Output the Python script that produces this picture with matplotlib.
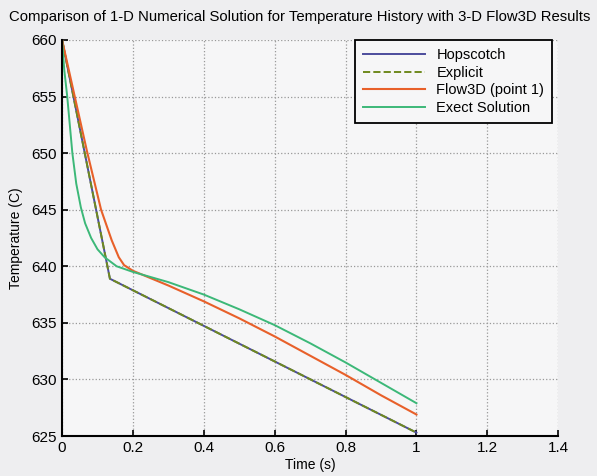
import matplotlib.pyplot as plt

# time/temperature readings estimated from the chart
t_num = [0.0, 0.135, 1.0]
hopscotch = [660.0, 638.9, 625.3]
explicit = [660.0, 638.9, 625.3]

t_flow = [0.0, 0.07, 0.11, 0.14, 0.16, 0.175, 0.2, 0.3, 0.4, 0.5, 0.6, 0.7, 0.8, 0.9, 1.0]
flow3d = [660.0, 650.2, 645.0, 642.3, 640.8, 640.1, 639.6, 638.3, 636.9, 635.4, 633.8, 632.1, 630.4, 628.6, 626.9]

t_exact = [0.0, 0.006, 0.0145, 0.029, 0.04, 0.053, 0.065, 0.082, 0.10, 0.12, 0.154, 0.2,
           0.3, 0.4, 0.5, 0.6, 0.7, 0.8, 0.9, 1.0]
exact = [660.0, 657.4, 655.0, 650.0, 647.3, 645.2, 643.8, 642.5, 641.5, 640.8, 640.0, 639.5,
         638.6, 637.5, 636.2, 634.8, 633.2, 631.5, 629.7, 627.9]

x_ticks = [0, 0.2, 0.4, 0.6, 0.8, 1.0, 1.2, 1.4]
x_labels = ['0', '0.2', '0.4', '0.6', '0.8', '1', '1.2', '1.4']
y_ticks = [625, 630, 635, 640, 645, 650, 655, 660]

plt.rcParams['font.family'] = ['Liberation Sans', 'DejaVu Sans']

fig = plt.figure(figsize=(5.97, 4.76), dpi=100, facecolor='#eeeef0')
ax = fig.add_axes([0.104, 0.084, 0.831, 0.832], facecolor='#f6f6f7')

ax.plot(t_num, hopscotch, color='#4c4c9c', lw=1.4, label='Hopscotch')
ax.plot(t_num, explicit, color='#6f8a1e', lw=1.4, ls='--', label='Explicit')
ax.plot(t_flow, flow3d, color='#e8602a', lw=1.5, label='Flow3D (point 1)')
ax.plot(t_exact, exact, color='#3cb878', lw=1.4, label='Exect Solution')

ax.set_xlim(0, 1.4)
ax.set_ylim(625, 660)
ax.set_xticks(x_ticks)
ax.set_xticklabels(x_labels)
ax.set_yticks(y_ticks)
ax.tick_params(direction='in', length=4, labelsize=11, width=1.2)
ax.grid(True, ls=':', color='#999999', lw=0.9)

for s in ['top', 'right']:
    ax.spines[s].set_visible(False)
for s in ['left', 'bottom']:
    ax.spines[s].set_linewidth(1.5)

ax.set_xlabel('Time (s)', fontsize=10)
ax.set_ylabel('Temperature (C)', fontsize=10)
ax.xaxis.labelpad = 2
ax.yaxis.labelpad = 6
fig.text(0.502, 0.965, 'Comparison of 1-D Numerical Solution for Temperature History with 3-D Flow3D Results',
         ha='center', va='center', fontsize=10.7)

leg = ax.legend(loc='upper right', bbox_to_anchor=(0.988, 1.0), fontsize=10.5, frameon=True,
                fancybox=False, borderaxespad=0.0, borderpad=0.55, handlelength=4.2,
                handletextpad=0.8, labelspacing=0.25)
leg.get_frame().set_edgecolor('black')
leg.get_frame().set_linewidth(1.3)
leg.get_frame().set_facecolor('#f6f6f7')
leg.get_frame().set_alpha(1)

fig.savefig('out.png', dpi=100, facecolor=fig.get_facecolor())
